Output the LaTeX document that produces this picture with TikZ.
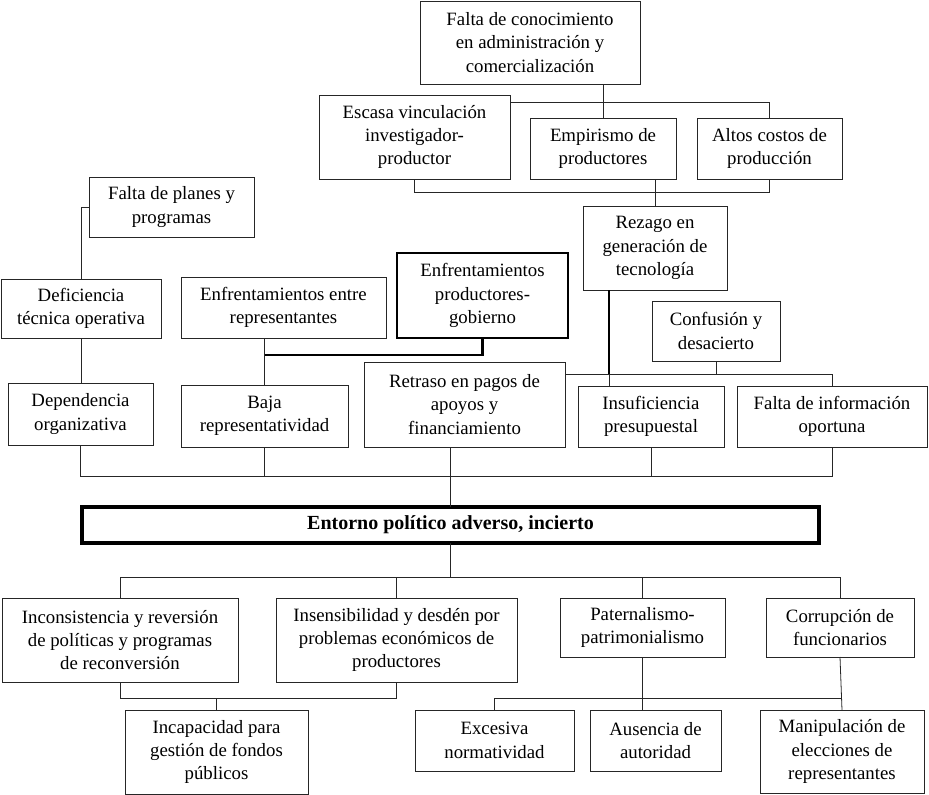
\documentclass[tikz,border=0pt]{standalone}
\usepackage{fontspec}
\setmainfont{Liberation Serif}
\begin{document}
\tikzset{
  bx/.style={draw=black!85, line width=0.8pt, align=center, inner sep=0pt, outer sep=0pt,
    font=\fontsize{18.8}{23.3}\selectfont, text=black},
  ln/.style={draw=black!85, line width=0.8pt},
  thk/.style={draw=black, line width=2.2pt},
}
\begin{tikzpicture}[x=1pt,y=-1pt]
\useasboundingbox (0,0) rectangle (929,795);
\fill[white] (0,0) rectangle (929,795);

% top group
\node[bx, minimum width=220pt, minimum height=83pt] (fc) at (530,42.5) {Falta de conocimiento\\en administración y\\comercialización};
\node[bx, minimum width=191pt, minimum height=84pt] (esc) at (414.5,137) {Escasa vinculación\\investigador-\\productor};
\node[bx, minimum width=146pt, minimum height=61pt] (emp) at (603,148.5) {Empirismo de\\productores};
\node[bx, minimum width=145pt, minimum height=61pt] (alt) at (769.5,148.5) {Altos costos de\\producción};
\node[bx, minimum width=144pt, minimum height=84pt] (rez) at (655,248) {Rezago en\\generación de\\tecnología};

% left group
\node[bx, minimum width=165pt, minimum height=60pt] (fp) at (171.5,207) {Falta de planes y\\programas};
\node[bx, minimum width=160pt, minimum height=59pt] (def) at (81,308.5) {Deficiencia\\técnica operativa};
\node[bx, minimum width=145pt, minimum height=62pt] (dep) at (80.5,414) {Dependencia\\organizativa};
\node[bx, minimum width=205pt, minimum height=61pt] (ee) at (283.5,307.5) {Enfrentamientos entre\\representantes};
\node[bx, line width=2pt, draw=black, minimum width=171pt, minimum height=85pt] (ep) at (482.5,295.5) {Enfrentamientos\\productores-\\gobierno};
\node[bx, minimum width=167pt, minimum height=62pt] (baja) at (264.5,416) {Baja\\representatividad};
\node[bx, minimum width=201pt, minimum height=85pt] (ret) at (464.5,404.5) {Retraso en pagos de\\apoyos y\\financiamiento};
\node[bx, minimum width=128pt, minimum height=60pt] (con) at (716,331) {Confusión y\\desacierto};
\node[bx, minimum width=146pt, minimum height=61pt] (ins) at (651,416.5) {Insuficiencia\\presupuestal};
\node[bx, minimum width=190pt, minimum height=61pt] (fi) at (832,416.5) {Falta de información\\oportuna};

% central
\node[bx, draw=black, line width=3.5pt, minimum width=737pt, minimum height=36pt, font=\fontsize{20}{24}\selectfont\bfseries] (ent) at (450.5,525) {Entorno político adverso, incierto};

% bottom group
\node[bx, minimum width=236pt, minimum height=84pt] (inc) at (120,640) {Inconsistencia y reversión\\de políticas y programas\\de reconversión};
\node[bx, minimum width=241pt, minimum height=84pt] (insen) at (396.5,640) {Insensibilidad y desdén por\\problemas económicos de\\productores};
\node[bx, minimum width=165pt, minimum height=59pt] (pat) at (642.5,627.5) {Paternalismo-\\patrimonialismo};
\node[bx, minimum width=148pt, minimum height=59pt] (cor) at (840,627.5) {Corrupción de\\funcionarios};
\node[bx, minimum width=183pt, minimum height=84pt] (incap) at (216.5,752) {Incapacidad para\\gestión de fondos\\públicos};
\node[bx, minimum width=159pt, minimum height=61pt] (exc) at (494.5,740.5) {Excesiva\\normatividad};
\node[bx, minimum width=131pt, minimum height=61pt] (aus) at (655.5,740.5) {Ausencia de\\autoridad};
\node[bx, minimum width=164pt, minimum height=83pt] (man) at (842,751.5) {Manipulación de\\elecciones de\\representantes};

% junction levels
\coordinate (j1) at (0,102);
\coordinate (j2) at (0,192);
\coordinate (j3) at (0,476);
\coordinate (j4) at (0,355);
\coordinate (j5) at (0,374);
\coordinate (rx) at (609,0);
\coordinate (j6) at (0,577);
\coordinate (j7) at (0,698);

% connectors top
\draw[ln] (emp.north |- fc.south) -- (emp.north);
\draw[ln] (esc.east |- j1) -| (alt.north);
\draw[ln] (esc.south) |- (alt.south |- j2) -- (alt.south);
\draw[ln] (rez.north |- emp.south) -- (rez.north);

% connectors middle
\draw[ln] (fp.west) -| (def.north);
\draw[ln] (def.south) -- (def.south |- dep.north);
\draw[ln] (dep.south) |- (fi.south |- j3) -- (fi.south);
\draw[ln] (baja.south) -- (baja.south |- j3);
\draw[ln] (ins.south) -- (ins.south |- j3);
\draw[ln] (ent.north |- ret.south) -- (ent.north);
\draw[ln] (baja.north |- ee.south) -- (baja.north);
\draw[thk] (baja.north |- j4) -| (ep.south);
\draw[thk] (rx |- rez.south) -- (rx |- j5);
\draw[ln] (ret.east |- j5) -| (fi.north);
\draw[ln] (rx |- j5) -- (rx |- ins.north);
\draw[ln] (con.south) -- (con.south |- j5);

% connectors bottom
\draw[ln] (ent.south) -- (ent.south |- j6);
\draw[ln] (inc.north) |- (cor.north |- j6) -- (cor.north);
\draw[ln] (insen.north) -- (insen.north |- j6);
\draw[ln] (pat.north) -- (pat.north |- j6);
\draw[ln] (inc.south) |- (insen.south |- j7) -- (insen.south);
\draw[ln] (incap.north |- j7) -- (incap.north);
\draw[ln] (pat.south) -- (pat.south |- aus.north);
\draw[ln] (exc.north) |- (man.north |- j7);
\draw[ln] (cor.south) -- (man.north);
\end{tikzpicture}
\end{document}
